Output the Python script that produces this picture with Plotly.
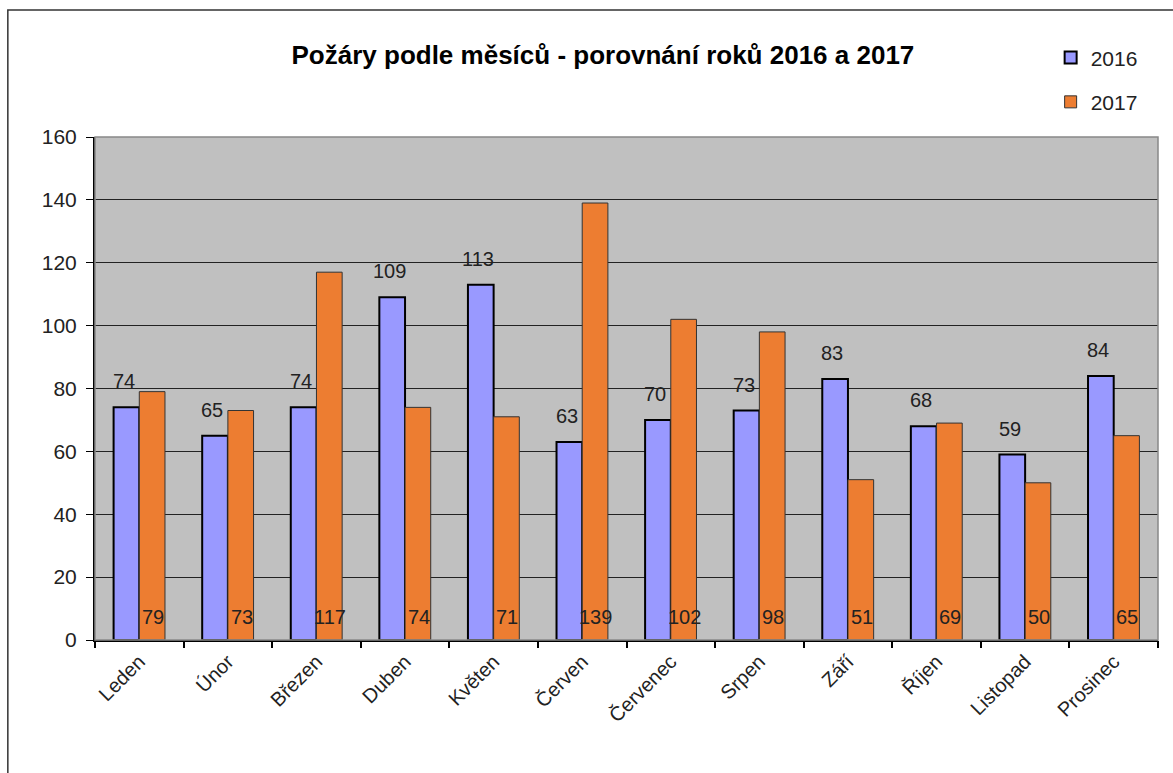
import plotly.graph_objects as go

# --- data ---
months = ["Leden", "Únor", "Březen", "Duben", "Květen", "Červen",
          "Červenec", "Srpen", "Září", "Říjen", "Listopad", "Prosinec"]
fires_2016 = [74, 65, 74, 109, 113, 63, 70, 73, 83, 68, 59, 84]
fires_2017 = [79, 73, 117, 74, 71, 139, 102, 98, 51, 69, 50, 65]
y_ticks = [0, 20, 40, 60, 80, 100, 120, 140, 160]

pos = list(range(len(months)))
bw = 0.29
font = "Liberation Sans, Arial, sans-serif"

fig = go.Figure()
fig.add_trace(go.Bar(x=pos, y=fires_2016, name="2016", offset=-bw, width=bw,
                     marker=dict(color="#9999FF", line=dict(color="black", width=2)),
                     legendgroup="a"))
fig.add_trace(go.Bar(x=pos, y=fires_2017, name="2017", offset=0, width=bw,
                     marker=dict(color="#ED7D31", line=dict(color="#333333", width=1)),
                     legendgroup="b"))

# value labels
ann = []
for i, v in enumerate(fires_2016):
    ann.append(dict(x=i - bw / 2 - 0.03, y=v, xref="x", yref="y", text=str(v),
                    showarrow=False, yanchor="bottom", yshift=13,
                    font=dict(size=20, color="#222")))
for i, v in enumerate(fires_2017):
    ann.append(dict(x=i + bw / 2 + 0.01, y=0, xref="x", yref="y", text=str(v),
                    showarrow=False, yanchor="middle", yshift=23,
                    font=dict(size=20, color="#222")))

# invisible trace to carry category-boundary ticks on a second axis
fig.add_trace(go.Scatter(x=[-0.5, 11.5], y=[0, 0], xaxis="x2", mode="none",
                         showlegend=False, hoverinfo="skip"))

fig.update_layout(
    width=1173, height=773,
    margin=dict(l=95, r=15, t=137, b=133),
    paper_bgcolor="white",
    plot_bgcolor="#C0C0C0",
    font=dict(family=font, size=20, color="#222"),
    title=dict(text="<b>Požáry podle měsíců - porovnání roků 2016 a 2017</b>",
               x=0.514, xanchor="center", y=0.929, yanchor="middle",
               font=dict(size=26, color="black")),
    showlegend=True,
    legend=dict(x=0.899, y=1.198, xanchor="left", yanchor="top",
                font=dict(size=21), tracegroupgap=14, bgcolor="rgba(0,0,0,0)",
                itemwidth=30),
    xaxis=dict(range=[-0.5, 11.5], tickvals=pos, ticktext=months,
               tickangle=-45, ticks="", showgrid=False, zeroline=False,
               showline=True, linecolor="black", linewidth=2,
               tickfont=dict(size=20)),
    xaxis2=dict(range=[-0.5, 11.5], overlaying="x", anchor="y", side="bottom",
                tickvals=[i - 0.5 for i in range(len(months) + 1)],
                ticks="outside", ticklen=7, tickcolor="black", tickwidth=1.5,
                showticklabels=False, showgrid=False, zeroline=False),
    yaxis=dict(range=[0, 160], tickvals=y_ticks, ticks="outside", ticklen=7,
               tickcolor="black", showgrid=True, gridcolor="#222", gridwidth=1,
               zeroline=False, showline=True, linecolor="black", linewidth=2,
               tickfont=dict(size=21), ticklabelstandoff=5),
    annotations=ann,
    shapes=[
        # outer chart frame
        dict(type="rect", xref="paper", yref="paper", x0=-0.082, x1=1.2,
             y0=-0.6, y1=1.2525, line=dict(color="#333", width=1.5)),
        # plot area border
        dict(type="rect", xref="paper", yref="paper", x0=0, x1=1, y0=0, y1=1,
             line=dict(color="#888", width=1.5), layer="above"),
    ],
)

# drop the default 8px page margin so the figure sits at the window corner
fig.write_html("out.html", config={"displayModeBar": False},
               post_script="document.body.style.margin='0px';"
                           "document.body.style.overflow='hidden';")
